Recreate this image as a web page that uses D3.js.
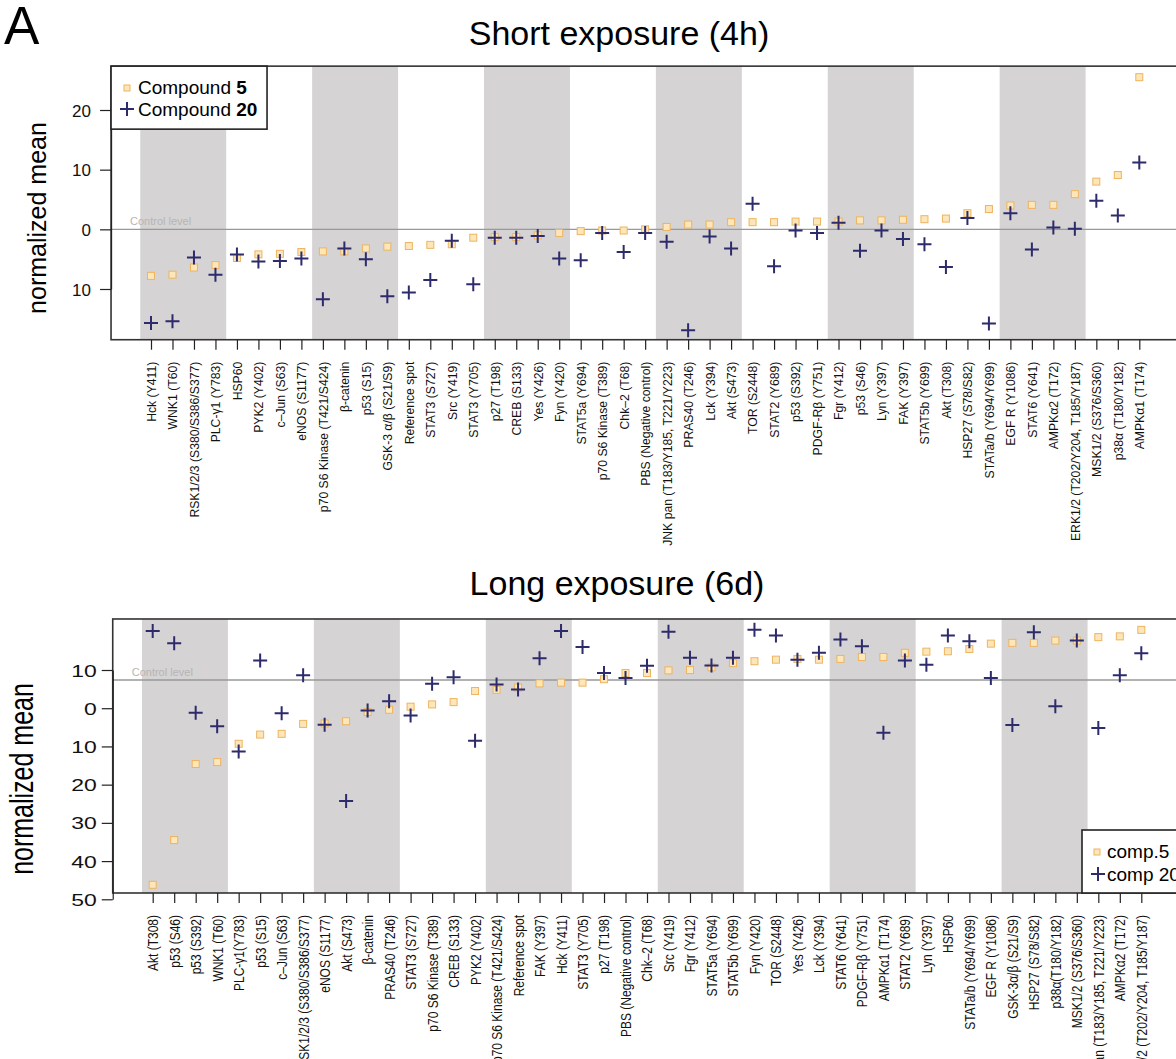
<!DOCTYPE html>
<html><head><meta charset="utf-8">
<script src="https://cdn.jsdelivr.net/npm/d3@7"></script>
<style>body{margin:0;background:#fff} svg{display:block} text{font-family:"Liberation Sans",Arial,Helvetica,sans-serif}</style>
</head><body><script>
// ---------- data ----------
const shortCategories = ["Hck (Y411)","WNK1 (T60)","RSK1/2/3 (S380/S386/S377)","PLC-γ1 (Y783)","HSP60","PYK2 (Y402)","c–Jun (S63)","eNOS (S1177)","p70 S6 Kinase (T421/S424)","β-catenin","p53 (S15)","GSK-3 α/β (S21/S9)","Reference spot","STAT3 (S727)","Src (Y419)","STAT3 (Y705)","p27 (T198)","CREB (S133)","Yes (Y426)","Fyn (Y420)","STAT5a (Y694)","p70 S6 Kinase (T389)","Chk–2 (T68)","PBS (Negative control)","JNK pan (T183/Y185, T221/Y223)","PRAS40 (T246)","Lck (Y394)","Akt (S473)","TOR (S2448)","STAT2 (Y689)","p53 (S392)","PDGF-Rβ (Y751)","Fgr (Y412)","p53 (S46)","Lyn (Y397)","FAK (Y397)","STAT5b (Y699)","Akt (T308)","HSP27 (S78/S82)","STATa/b (Y694/Y699)","EGF R (Y1086)","STAT6 (Y641)","AMPKα2 (T172)","ERK1/2 (T202/Y204, T185/Y187)","MSK1/2 (S376/S360)","p38α (T180/Y182)","AMPKα1 (T174)"];
const shortComp5 = [-7.8,-7.6,-6.4,-6.0,-4.8,-4.2,-4.1,-3.8,-3.7,-3.7,-3.2,-2.9,-2.8,-2.6,-2.5,-1.4,-1.3,-1.3,-1.0,-0.6,-0.3,-0.2,-0.2,0.0,0.4,0.8,0.8,1.2,1.2,1.2,1.3,1.3,1.3,1.5,1.5,1.6,1.7,1.8,2.7,3.4,4.0,4.1,4.1,5.9,8.0,9.1,25.5];
const shortComp20 = [-15.7,-15.4,-4.7,-7.6,-4.2,-5.4,-5.3,-4.9,-11.7,-3.2,-5.0,-11.2,-10.6,-8.5,-1.9,-9.2,-1.4,-1.4,-1.1,-4.9,-5.2,-0.6,-3.8,-0.6,-2.1,-16.9,-1.2,-3.2,4.3,-6.2,-0.2,-0.6,1.1,-3.6,-0.2,-1.6,-2.5,-6.3,1.9,-15.8,2.7,-3.4,0.3,0.1,4.8,2.3,11.2];
const shortTicks = [20,10,0,-10];
const shortControl = 0;

const longCategories = ["Akt (T308)","p53 (S46)","p53 (S392)","WNK1 (T60)","PLC-γ1(Y783)","p53 (S15)","c–Jun (S63)","RSK1/2/3 (S380/S386/S377)","eNOS (S1177)","Akt (S473)","β-catenin","PRAS40 (T246)","STAT3 (S727)","p70 S6 Kinase (T389)","CREB (S133)","PYK2 (Y402)","p70 S6 Kinase (T421/S424)","Reference spot","FAK (Y397)","Hck (Y411)","STAT3 (Y705)","p27 (T198)","PBS (Negative control)","Chk–2 (T68)","Src (Y419)","Fgr (Y412)","STAT5a (Y694)","STAT5b (Y699)","Fyn (Y420)","TOR (S2448)","Yes (Y426)","Lck (Y394)","STAT6 (Y641)","PDGF-Rβ (Y751)","AMPKα1 (T174)","STAT2 (Y689)","Lyn (Y397)","HSP60","STATa/b (Y694/Y699)","EGF R (Y1086)","GSK-3α/β (S21/S9)","HSP27 (S78/S82)","p38α(T180/Y182)","MSK1/2 (S376/S360)","JNK pan (T183/Y185, T221/Y223)","AMPKα2 (T172)","ERK1/2 (T202/Y204, T185/Y187)"];
const longComp5 = [-46.2,-34.5,-14.6,-14.1,-9.3,-6.9,-6.7,-4.1,-4.0,-3.4,-1.0,-0.4,0.4,1.0,1.6,4.5,4.8,5.4,6.5,6.7,6.7,7.6,9.2,9.2,9.9,10.0,10.7,11.8,12.3,12.7,12.9,12.7,12.9,13.4,13.4,14.5,14.8,14.9,15.5,16.9,17.1,17.1,17.7,17.7,18.6,18.8,20.5];
const longComp20 = [20.2,17.0,-1.2,-4.7,-11.3,12.5,-1.3,8.6,-4.3,-24.3,-0.6,1.8,-1.9,6.4,8.1,-8.5,6.2,4.9,13.1,20.2,16.0,9.2,7.9,11.1,20.0,13.2,11.2,13.2,20.5,19.0,12.7,14.5,18.0,16.2,-6.4,12.5,11.4,19.0,17.5,7.9,-4.4,19.9,0.5,17.7,-5.2,8.6,14.4];
const longTicks = [10,0,-10,-20,-30,-40,-50];
const longControl = 7.4;

// ---------- styles ----------
const C5_FILL = "#fde7ba", C5_STROKE = "#eeb45e", C20 = "#2e2b6c", BAND = "#d5d3d3";

const svg = d3.select("body").append("svg").attr("width",1176).attr("height",1059);

svg.append("text").attr("x",4).attr("y",44).attr("font-size",53).text("A");

function cross(sel){ sel.append("path").attr("d","M-7,0H7M0,-7V7").attr("stroke",C20).attr("stroke-width",2).attr("fill","none"); }
function square(sel){ sel.append("rect").attr("x",-3.5).attr("y",-3.5).attr("width",7).attr("height",7).attr("fill",C5_FILL).attr("stroke",C5_STROKE).attr("stroke-width",1); }

function panel(cfg){
  const n = cfg.cats.length;
  const g = svg.append("g");
  const x = d3.scaleLinear().domain([0,n-1]).range(cfg.xr);
  const y = d3.scaleLinear().domain(cfg.yd).range(cfg.yr);
  const left = x(-1.86), right = x(n-1+1.86), top = y(cfg.yMax), bottom = y(cfg.yMin);

  // bands
  for(let i=0;i<n;i+=8){
    g.append("rect").attr("x",x(i-0.5)).attr("y",top)
      .attr("width",x(Math.min(i+3,n-1)+0.5)-x(i-0.5)).attr("height",bottom-top).attr("fill",BAND);
  }
  // control level
  g.append("line").attr("x1",left).attr("x2",right).attr("y1",y(cfg.ctrl)).attr("y2",y(cfg.ctrl))
    .attr("stroke","#999").attr("stroke-width",1.4);
  g.append("text").attr("x",left+19).attr("y",y(cfg.ctrl)-4).attr("font-size",11).attr("fill","#b5b5b5").text("Control level");

  // points
  g.selectAll(".c5").data(cfg.c5).join("g").attr("transform",(d,i)=>`translate(${x(i)},${y(d)})`).call(square);
  g.selectAll(".c20").data(cfg.c20).join("g").attr("transform",(d,i)=>`translate(${x(i)},${y(d)})`).call(cross);

  // box
  g.append("rect").attr("x",left).attr("y",top).attr("width",right-left).attr("height",bottom-top)
    .attr("fill","none").attr("stroke","#333").attr("stroke-width",1.6);

  // y axis
  const ya = g.append("g").attr("transform",`translate(${left},0)`)
    .call(d3.axisLeft(y).tickValues(cfg.ticks).tickSize(11).tickSizeOuter(0).tickPadding(0).tickFormat(d=>Math.abs(d)));
  ya.select(".domain").attr("stroke","#222").attr("stroke-width",1.2);
  ya.selectAll(".tick line").attr("stroke","#222").attr("stroke-width",1.2);
  ya.selectAll(".tick text").attr("font-size",cfg.ytFont).attr("fill","#111")
    .attr("x",0).attr("dy","0.36em")
    .attr("transform",`translate(${-cfg.ytGap},0) scale(${cfg.ytScale},1)`);

  // x axis
  const xa = g.append("g").attr("transform",`translate(0,${bottom})`)
    .call(d3.axisBottom(x).tickValues(d3.range(n)).tickSize(10).tickSizeOuter(0).tickFormat(i=>cfg.cats[i]));
  xa.select(".domain").remove();
  xa.selectAll(".tick line").attr("stroke","#222").attr("stroke-width",1.2);
  xa.selectAll(".tick text").attr("font-size",cfg.xtFont).attr("fill","#111")
    .attr("x",-cfg.xtGap).attr("y",0).attr("dy","0.36em").style("text-anchor","end")
    .attr("transform",`scale(${cfg.xtScale},1) rotate(-90)`);

  // y label
  svg.append("text").attr("font-size",cfg.ylFont).attr("text-anchor","middle")
    .attr("transform",`translate(${cfg.ylX},${cfg.ylY}) scale(${cfg.ylScale},1) rotate(-90)`).text("normalized mean");
  // title
  svg.append("text").attr("x",cfg.titleX).attr("y",cfg.titleY).attr("font-size",34).attr("text-anchor","middle").text(cfg.title);
  return {g,x,y,left,right,top,bottom};
}

const P1 = panel({cats:shortCategories,c5:shortComp5,c20:shortComp20,ticks:shortTicks,ctrl:shortControl,
  xr:[151,1139.3], yd:[-10,20], yr:[289,110], yMin:-18.5, yMax:27.35,
  ytFont:17, ytGap:20, ytScale:1, xtFont:12.2, xtGap:22, xtScale:1,
  ylFont:25, ylX:46, ylY:218, ylScale:1, title:"Short exposure (4h)", titleX:619, titleY:45});

const P2 = panel({cats:longCategories,c5:longComp5,c20:longComp20,ticks:longTicks,ctrl:longControl,
  xr:[152.7,1141.3], yd:[-50,10], yr:[899.3,670], yMin:-48.35, yMax:23.35,
  ytFont:17, ytGap:16, ytScale:1.35, xtFont:12, xtGap:22, xtScale:1.15,
  ylFont:25, ylX:33, ylY:779, ylScale:1.35, title:"Long exposure (6d)", titleX:617, titleY:595});

// legends
function legend(p, bx, by, bw, bh, items, fs){
  const lg = svg.append("g");
  lg.append("rect").attr("x",bx).attr("y",by).attr("width",bw).attr("height",bh).attr("fill","#fff").attr("stroke","#222").attr("stroke-width",1.6);
  items.forEach((it,k)=>{
    const m = lg.append("g").attr("transform",`translate(${it.mx},${it.my})`);
    it.kind==="sq" ? m.call(s=>s.append("rect").attr("x",-3).attr("y",-3).attr("width",6).attr("height",6).attr("fill",C5_FILL).attr("stroke",C5_STROKE)) : m.call(cross);
    const t = lg.append("text").attr("x",it.tx).attr("y",it.ty).attr("font-size",fs);
    t.append("tspan").text(it.label);
    if(it.bold) t.append("tspan").attr("font-weight","bold").text(it.bold);
  });
}
const legendShortLabels = ["Compound ","Compound "], legendShortBold = ["5","20"];
legend(P1, P1.left, P1.top, 156, 63, [
  {kind:"sq", mx:127, my:88, tx:138, ty:94, label:legendShortLabels[0], bold:legendShortBold[0]},
  {kind:"x", mx:127, my:109, tx:138, ty:116, label:legendShortLabels[1], bold:legendShortBold[1]}], 19);
const legendLongLabels = ["comp.5","comp 20"];
legend(P2, 1082, 830, P2.right-1082, P2.bottom-830, [
  {kind:"sq", mx:1097, my:852, tx:1107, ty:858, label:legendLongLabels[0]},
  {kind:"x", mx:1098, my:874, tx:1107, ty:881, label:legendLongLabels[1]}], 19);
</script></body></html>
